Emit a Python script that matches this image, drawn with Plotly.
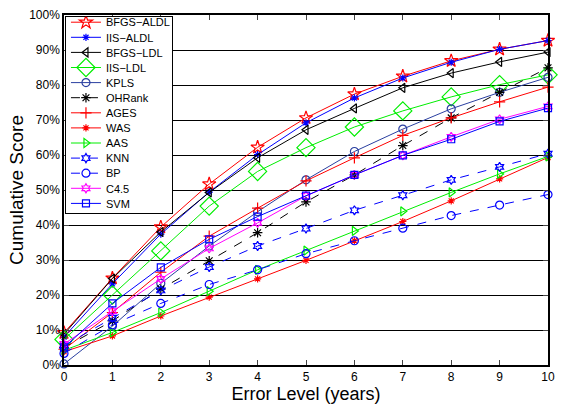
import plotly.graph_objects as go

error_levels = [0, 1, 2, 3, 4, 5, 6, 7, 8, 9, 10]
x_tick_labels = ["0", "1", "2", "3", "4", "5", "6", "7", "8", "9", "10"]
y_tick_values = [0, 10, 20, 30, 40, 50, 60, 70, 80, 90, 100]
y_tick_labels = ["0%", "10%", "20%", "30%", "40%", "50%", "60%", "70%", "80%", "90%", "100%"]

bfgs_aldl = [9.2, 24.8, 39.4, 51.7, 62.2, 70.6, 77.4, 82.5, 86.9, 90.2, 92.7]
iis_aldl = [8.0, 23.2, 37.4, 49.4, 60.1, 69.2, 76.3, 82.0, 86.5, 90.2, 92.7]
bfgs_ldl = [8.8, 24.7, 38.0, 49.3, 59.2, 67.2, 73.3, 79.2, 83.4, 86.6, 89.4]
iis_ldl = [7.3, 20.0, 32.6, 45.4, 55.3, 62.1, 68.0, 72.6, 76.6, 80.1, 82.9]
kpls = [0.3, 11.1, 23.3, 34.0, 43.8, 52.9, 61.0, 67.4, 73.2, 77.9, 82.2]
ohrank = [5.0, 12.6, 21.7, 29.8, 37.8, 46.6, 54.3, 62.7, 70.6, 77.9, 84.9]
ages = [4.5, 15.0, 26.5, 36.8, 44.8, 52.6, 59.2, 65.6, 70.6, 75.2, 79.4]
was = [3.8, 8.3, 14.0, 19.4, 24.6, 29.9, 35.5, 41.0, 46.9, 53.2, 59.3]
aas = [4.2, 9.3, 15.0, 21.1, 27.2, 32.7, 38.3, 43.9, 49.3, 54.6, 59.6]
knn = [5.5, 13.5, 21.3, 28.0, 34.0, 39.0, 44.2, 48.5, 52.9, 56.6, 60.4]
bp = [3.3, 11.5, 17.6, 23.0, 27.2, 31.8, 35.5, 39.1, 42.7, 45.7, 48.7]
c45 = [6.0, 15.4, 24.6, 33.3, 40.6, 48.3, 54.3, 59.9, 65.2, 70.2, 73.9]
svm = [5.0, 17.6, 27.9, 35.9, 42.4, 48.4, 54.3, 59.9, 64.5, 69.6, 73.4]

series = [
    ("BFGS\u2212ALDL", bfgs_aldl, "#ff0000", "solid", "star-open", 10),
    ("IIS\u2212ALDL", iis_aldl, "#0000ff", "solid", "asterisk-open", 6),
    ("BFGS\u2212LDL", bfgs_ldl, "#000000", "solid", "triangle-left-open", 8),
    ("IIS\u2212LDL", iis_ldl, "#00ee00", "solid", "diamond-open", 14),
    ("KPLS", kpls, "#2a3fa0", "solid", "circle-open", 8),
    ("OHRank", ohrank, "#000000", "dash", "asterisk-open", 8),
    ("AGES", ages, "#ff0000", "solid", "cross-thin-open", 8),
    ("WAS", was, "#ff0000", "solid", "asterisk-open", 6),
    ("AAS", aas, "#00ee00", "solid", "triangle-right-open", 8),
    ("KNN", knn, "#0000ff", "dash", "hexagram-open", 7),
    ("BP", bp, "#0000ff", "dash", "circle-open", 8),
    ("C4.5", c45, "#ff00ff", "solid", "hexagram-open", 7),
    ("SVM", svm, "#0000ff", "solid", "square-open", 7),
]

fig = go.Figure()
for name, vals, color, dash, symbol, size in series:
    fig.add_trace(go.Scatter(
        x=error_levels, y=vals, name=name, mode="lines+markers",
        line=dict(color=color, width=1, dash=dash),
        marker=dict(symbol=symbol, size=size, color=color,
                    line=dict(color=color, width=1.2)),
        cliponaxis=False,
    ))

font_family = "Liberation Sans, Arial, Helvetica, sans-serif"
fig.update_layout(
    width=563, height=409,
    margin=dict(l=64, r=8, t=10, b=44),
    paper_bgcolor="white", plot_bgcolor="white",
    font=dict(family=font_family, size=12, color="black"),
    showlegend=True,
    legend=dict(x=0.002, y=0.998, xanchor="left", yanchor="top",
                bgcolor="white", bordercolor="black", borderwidth=1,
                font=dict(size=11, family=font_family),
                tracegroupgap=0, itemwidth=30),
    xaxis=dict(range=[0, 10], tickmode="array", tickvals=error_levels,
               ticktext=x_tick_labels, ticks="inside", ticklen=5,
               showline=True, linecolor="black", linewidth=1.5, mirror="ticks",
               showgrid=False, zeroline=False,
               title=dict(text="Error Level (years)", font=dict(size=18), standoff=2),
               tickfont=dict(size=12)),
    yaxis=dict(range=[0, 100], tickmode="array", tickvals=y_tick_values,
               ticktext=y_tick_labels, ticks="inside", ticklen=5,
               showline=True, linecolor="black", linewidth=1.5, mirror="ticks",
               showgrid=True, gridcolor="black", gridwidth=1, zeroline=False,
               title=dict(text="Cumulative Score", font=dict(size=19), standoff=0),
               tickfont=dict(size=12)),
)

post_js = """
document.body.style.margin = '0';
document.body.style.padding = '0';
(function(){
  var gd = document.getElementById('{plot_id}');
  function fix(){
    var items = gd.querySelectorAll('.legend .traces');
    if (!items.length) return;
    var step = 15.1;
    var y0 = 6.5;
    items.forEach(function(el, i){
      var m = /translate\\(([^,]+),\\s*([^)]+)\\)/.exec(el.getAttribute('transform'));
      el.setAttribute('transform', 'translate(' + parseFloat(m[1]) + ',' + (y0 + i * step) + ')');
    });
    var bg = gd.querySelector('.legend .bg');
    if (bg) {
      bg.setAttribute('height', 197);
      bg.setAttribute('width', 107);
    }
  }
  fix();
})();
"""

fig.write_html("out.html", post_script=post_js, config={"displayModeBar": False})
